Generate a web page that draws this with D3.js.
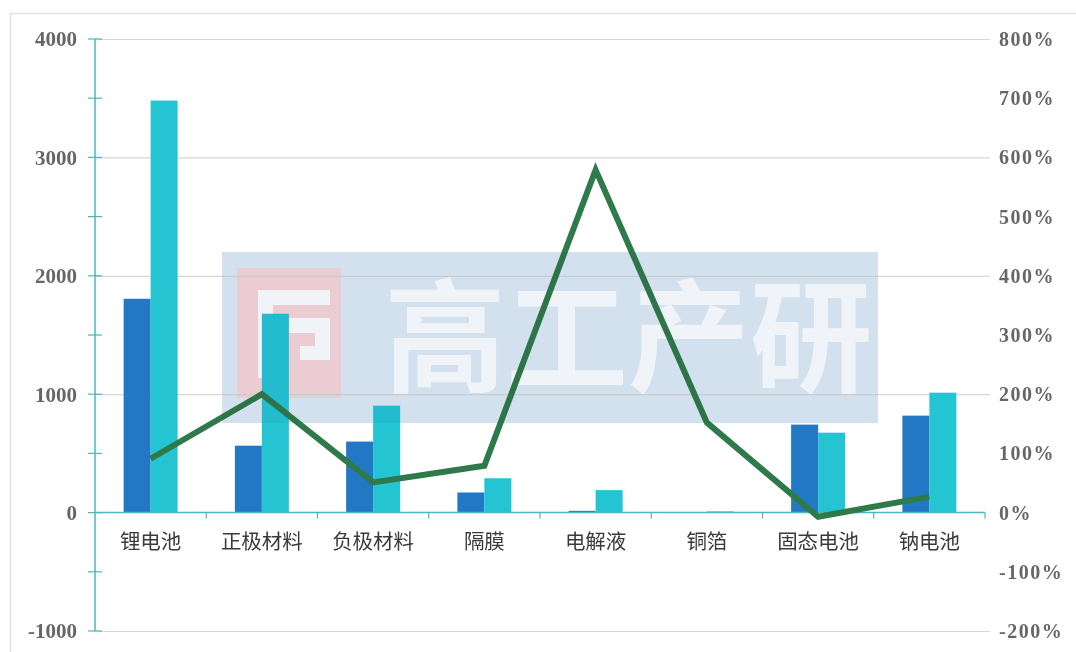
<!DOCTYPE html>
<html lang="zh">
<head>
  <meta charset="utf-8">
  <title>锂电池产业链</title>
  <script src="https://d3js.org/d3.v7.min.js"></script>
  <style>
    body { margin: 0; background: #fff; }
  </style>
</head>
<body>
<script>
  // data
  var categories = ["锂电池", "正极材料", "负极材料", "隔膜", "电解液", "铜箔", "固态电池", "钠电池"];
  var series1 = [1806, 565, 600, 170, 15, 3, 743, 819];
  var series2 = [3480, 1680, 903, 290, 190, 10, 675, 1013];
  var growth = [0.91, 2.0, 0.51, 0.79, 5.79, 1.52, -0.07, 0.27];
  var leftTicks = [-1000, 0, 1000, 2000, 3000, 4000];
  var rightTicks = [-2, -1, 0, 1, 2, 3, 4, 5, 6, 7, 8];

  var w = 1076, h = 652;
  // note: "top" is taken by window.top, so plot edges get their own names
  var plotL = 95, plotR = 985, plotT = 39, plotB = 631;

  var svg = d3.select("body").append("svg")
    .attr("width", w)
    .attr("height", h);

  // outer frame
  svg.append("path")
    .attr("d", "M10.5," + h + "V13.5H" + w)
    .attr("fill", "none")
    .attr("stroke", "#e2e2e2")
    .attr("stroke-width", 1.5);

  var x = d3.scaleBand().domain(categories).range([plotL, plotR]);
  var y = d3.scaleLinear().domain([-1000, 4000]).range([plotB, plotT]);
  var y2 = d3.scaleLinear().domain([-2, 8]).range([plotB, plotT]);

  // watermark background + white lettering, under the marks
  var wm = svg.append("g");
  wm.append("rect")
    .attr("x", 222).attr("y", 252)
    .attr("width", 656).attr("height", 171)
    .attr("fill", "rgb(225,234,243)");
  wm.append("rect")
    .attr("x", 237).attr("y", 268)
    .attr("width", 104).attr("height", 130)
    .attr("fill", "rgb(250,214,216)");
  wm.append("path")
    .attr("d", "M258,290H330V305H273V378H258Z M288,318H330V360H300V346H315V333H288Z")
    .attr("fill", "#fff");
  wm.append("text")
    .attr("x", 628).attr("y", 338)
    .attr("dy", "0.36em")
    .attr("text-anchor", "middle")
    .attr("font-family", "Noto Sans CJK SC, sans-serif")
    .attr("font-weight", "bold")
    .attr("font-size", 122)
    .attr("fill", "#fff")
    .text("高工产研");

  // gridlines
  svg.selectAll("line.grid")
    .data(leftTicks.filter(function(d) { return d !== 0; }))
    .enter().append("line")
    .attr("class", "grid")
    .attr("x1", plotL).attr("x2", plotR + 5)
    .attr("y1", function(d) { return y(d) + 0.5; })
    .attr("y2", function(d) { return y(d) + 0.5; })
    .attr("stroke", "#d6d6d6")
    .attr("stroke-width", 1.2);

  // bars
  var bw = 27;
  svg.selectAll("rect.s1")
    .data(series1)
    .enter().append("rect")
    .attr("class", "s1")
    .attr("x", function(d, i) { return x(categories[i]) + x.bandwidth() / 2 - bw; })
    .attr("y", function(d) { return y(d); })
    .attr("width", bw)
    .attr("height", function(d) { return y(0) - y(d); })
    .attr("fill", "#2378c6");

  svg.selectAll("rect.s2")
    .data(series2)
    .enter().append("rect")
    .attr("class", "s2")
    .attr("x", function(d, i) { return x(categories[i]) + x.bandwidth() / 2; })
    .attr("y", function(d) { return y(d); })
    .attr("width", bw)
    .attr("height", function(d) { return y(0) - y(d); })
    .attr("fill", "#25c4d3");

  // left axis
  var axisColor = "#4db5c0";
  svg.append("line")
    .attr("x1", plotL).attr("x2", plotL)
    .attr("y1", plotT).attr("y2", plotB)
    .attr("stroke", axisColor).attr("stroke-width", 1.5);

  svg.selectAll("line.ltick")
    .data(d3.range(-1000, 4001, 500))
    .enter().append("line")
    .attr("class", "ltick")
    .attr("x1", plotL - 7).attr("x2", plotL + 7)
    .attr("y1", function(d) { return y(d); })
    .attr("y2", function(d) { return y(d); })
    .attr("stroke", axisColor).attr("stroke-width", 1.2);

  svg.selectAll("text.ll")
    .data(leftTicks)
    .enter().append("text")
    .attr("class", "ll")
    .attr("x", 77)
    .attr("y", function(d) { return y(d); })
    .attr("dy", "0.35em")
    .attr("text-anchor", "end")
    .attr("font-family", "Liberation Serif, serif")
    .attr("font-weight", "bold")
    .attr("font-size", 21)
    .attr("fill", "#666")
    .text(function(d) { return d; });

  // right labels
  svg.selectAll("text.rl")
    .data(rightTicks)
    .enter().append("text")
    .attr("class", "rl")
    .attr("x", 999)
    .attr("y", function(d) { return y2(d); })
    .attr("dy", "0.35em")
    .attr("font-family", "Liberation Serif, serif")
    .attr("font-weight", "bold")
    .attr("font-size", 20)
    .attr("letter-spacing", 1.5)
    .attr("fill", "#666")
    .text(function(d) { return (d * 100) + "%"; });

  // x axis
  svg.append("line")
    .attr("x1", plotL).attr("x2", plotR)
    .attr("y1", y(0)).attr("y2", y(0))
    .attr("stroke", axisColor).attr("stroke-width", 1.5);

  svg.selectAll("line.xtick")
    .data(categories.slice(1).concat(["end"]))
    .enter().append("line")
    .attr("class", "xtick")
    .attr("x1", function(d, i) { return i < categories.length - 1 ? x(d) : plotR; })
    .attr("x2", function(d, i) { return i < categories.length - 1 ? x(d) : plotR; })
    .attr("y1", y(0)).attr("y2", y(0) + 6)
    .attr("stroke", axisColor).attr("stroke-width", 1.2);

  svg.selectAll("text.cat")
    .data(categories)
    .enter().append("text")
    .attr("class", "cat")
    .attr("x", function(d) { return x(d) + x.bandwidth() / 2; })
    .attr("y", 549)
    .attr("text-anchor", "middle")
    .attr("font-family", "Noto Sans CJK SC, sans-serif")
    .attr("font-size", 20.5)
    .attr("fill", "#3a3a3a")
    .text(function(d) { return d; });

  // growth line
  var line = d3.line()
    .x(function(d, i) { return x(categories[i]) + x.bandwidth() / 2; })
    .y(function(d) { return y2(d); });

  svg.append("path")
    .datum(growth)
    .attr("d", line)
    .attr("fill", "none")
    .attr("stroke", "#2f7a4a")
    .attr("stroke-width", 6)
    .attr("stroke-linejoin", "miter");

  // faint tint of the watermark over the marks
  svg.append("rect")
    .style("mix-blend-mode", "multiply")
    .attr("x", 222).attr("y", 252)
    .attr("width", 656).attr("height", 171)
    .attr("fill", "rgb(240,244,249)");
</script>
</body>
</html>
